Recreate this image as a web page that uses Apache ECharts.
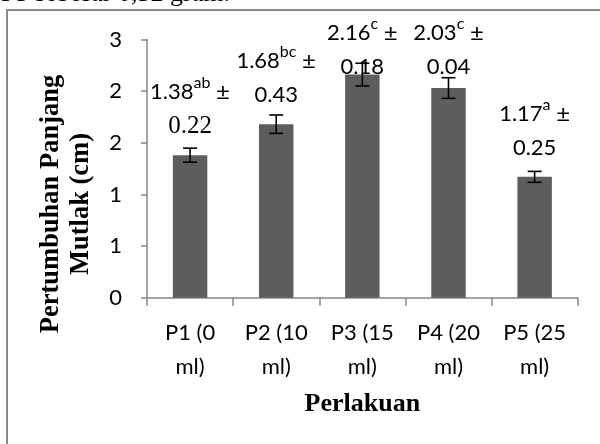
<!DOCTYPE html>
<html><head><meta charset="utf-8">
<script src="https://cdn.jsdelivr.net/npm/echarts@6/dist/echarts.min.js"></script>
<style>html,body{margin:0;padding:0;background:#fff}#c{width:600px;height:444px}</style>
</head><body><div id="c"></div>
<script>
const categories = ['P1 (0 ml)', 'P2 (10 ml)', 'P3 (15 ml)', 'P4 (20 ml)', 'P5 (25 ml)'];
const means = [1.38, 1.68, 2.16, 2.03, 1.17];
const sdText = ['0.22', '0.43', '0.18', '0.04', '0.25'];
const letters = ['ab', 'bc', 'c', 'c', 'a'];
const errorBars = [0.068, 0.089, 0.11, 0.10, 0.053];
const yTickLabels = ['0', '1', '1', '2', '2', '3'];
const yAxisTitle = 'Pertumbuhan Panjang\nMutlak (cm)';
const xAxisTitle = 'Perlakuan';
const topText = 'P5 sebesar 0,32 gram.';

const SANS = 'Lato';
const SERIF = '"Liberation Serif"';
const chart = echarts.init(document.getElementById('c'), null, {renderer: 'canvas'});

chart.setOption({
  animation: false,
  backgroundColor: '#fff',
  grid: {left: 147, right: 22.3, top: 39.5, bottom: 146.3, containLabel: false},
  graphic: [
    {type: 'polyline', shape: {points: [[7, 460], [7, 10], [620, 10]]},
     style: {stroke: '#8a8a8a', lineWidth: 2, fill: null}},
    {type: 'text', x: 1, y: -6, style: {text: topText, font: '26px ' + SERIF, fill: '#000',
      align: 'left', verticalAlign: 'middle'}},
    {type: 'text', x: 66, y: 204, rotation: Math.PI / 2,
     style: {text: yAxisTitle, font: 'bold 26.5px ' + SERIF, fill: '#000', align: 'center',
       verticalAlign: 'middle', lineHeight: 30}}
  ],
  xAxis: {
    type: 'category', data: categories,
    name: xAxisTitle, nameLocation: 'middle', nameGap: 92,
    nameTextStyle: {fontFamily: SERIF, fontWeight: 'bold', fontSize: 26, color: '#000', lineHeight: 30},
    axisLine: {lineStyle: {color: '#868686', width: 1.5}},
    axisTick: {show: true, length: 8, lineStyle: {color: '#868686', width: 1.5}},
    axisLabel: {fontFamily: SANS, fontSize: 22, color: '#000', lineHeight: 34, margin: 18,
      interval: 0, formatter: v => v.replace(/ ml\)$/, '\nml)')}
  },
  yAxis: {
    type: 'value', min: 0, max: 2.5, interval: 0.5,
    axisLine: {show: true, lineStyle: {color: '#868686', width: 1.5}},
    axisTick: {show: true, length: 6, lineStyle: {color: '#868686', width: 1.5}},
    splitLine: {show: false},
    axisLabel: {fontFamily: SANS, fontSize: 22, color: '#000', margin: 25,
      formatter: (v, i) => yTickLabels[i]}
  },
  series: [
    {
      type: 'bar', data: means, barWidth: '40%',
      itemStyle: {color: '#5d5d5d'},
      label: {
        show: true, position: 'top', distance: 12,
        formatter: p => '{v|' + means[p.dataIndex].toFixed(2) + '}{sup|' + letters[p.dataIndex] + '}{v| }{pm|±}\n' +
          (p.dataIndex === 0 ? '{s|' : '{v|') + sdText[p.dataIndex] + '}',
        rich: {
          v: {fontFamily: SANS, fontSize: 22, lineHeight: 34, color: '#000'},
          pm: {fontFamily: SANS, fontSize: 24, lineHeight: 34, color: '#000'},
          s: {fontFamily: SERIF, fontSize: 25, lineHeight: 34, color: '#000'},
          sup: {fontFamily: SANS, fontSize: 16, lineHeight: 31, verticalAlign: 'top', color: '#000'}
        }
      },
      labelLayout: function (params) {
        const minTop = 16;
        if (params.labelRect.y < minTop) return {dy: minTop - params.labelRect.y};
        return {};
      },
      z: 2
    },
    {
      type: 'custom',
      data: means.map((m, i) => [i, m, errorBars[i]]),
      renderItem: function (params, api) {
        const i = api.value(0), m = api.value(1), e = api.value(2);
        const top = api.coord([i, m + e]);
        const bot = api.coord([i, m - e]);
        const hw = 7;
        const st = {stroke: '#000', lineWidth: 1.6};
        return {type: 'group', children: [
          {type: 'line', shape: {x1: top[0], y1: top[1], x2: bot[0], y2: bot[1]}, style: st},
          {type: 'line', shape: {x1: top[0] - hw, y1: top[1], x2: top[0] + hw, y2: top[1]}, style: st},
          {type: 'line', shape: {x1: bot[0] - hw, y1: bot[1], x2: bot[0] + hw, y2: bot[1]}, style: st}
        ]};
      },
      z: 5
    }
  ]
});
</script></body></html>
